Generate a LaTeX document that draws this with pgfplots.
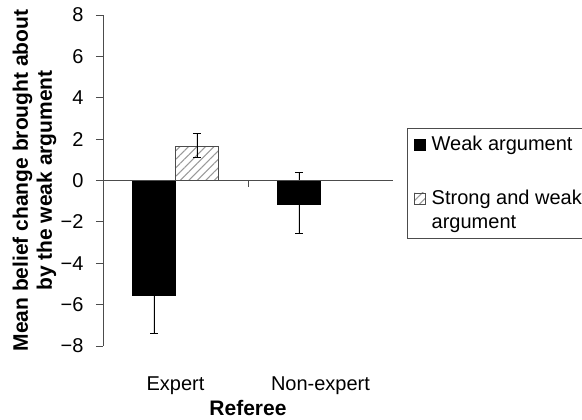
\documentclass[border=0pt]{standalone}
\usepackage{fontspec}
\setmainfont{Liberation Sans}
\usepackage{pgfplots}
\pgfplotsset{compat=1.18}
\usetikzlibrary{patterns.meta}
\pgfplotsset{
  imgA/.style={legend image code/.code={\path[draw=none,fill=none,opacity=0] (0pt,0pt) rectangle (15pt,0.1pt); \draw[##1, line width=0.6pt] (0pt,-5.5pt) rectangle (11pt,5.5pt);}},
  imgB/.style={legend image code/.code={\path[draw=none,fill=none,opacity=0] (0pt,0pt) rectangle (15pt,0.1pt); \draw[##1, line width=0.6pt] (0pt,6.5pt) rectangle (11pt,17.5pt);}},
}
\begin{document}
\begin{tikzpicture}
\begin{axis}[
  scale only axis, width=290pt, height=331pt,
  at={(0,0)}, anchor=south west,
  xmin=-0.5, xmax=1.5, ymin=-8, ymax=8,
  axis y line*=left, axis x line*=bottom,
  x axis line style={draw=none},
  y axis line style={black!70, line width=0.8pt},
  xtick={0,1}, xticklabels={Expert,Non-expert},
  major x tick style={draw=none},
  xticklabel style={anchor=center, yshift=-33pt},
  ytick={-8,-6,...,8}, yticklabels={−8,−6,−4,−2,0,2,4,6,8},
  yticklabel style={xshift=-9pt},
  major y tick style={black!70, line width=0.8pt},
  tick align=outside, major tick length=7pt,
  tick label style={font=\fontsize{20}{24}\selectfont},
  ybar=0pt, bar width=43pt,
  ylabel={Mean belief change brought about\\by the weak argument},
  ylabel style={at={(axis description cs:-0.236,0.5)}, anchor=center, align=center, font=\fontsize{21}{24}\selectfont\bfseries},
  xlabel={Referee},
  xlabel style={at={(axis description cs:0.5,-0.186)}, anchor=center, font=\fontsize{21}{24}\selectfont\bfseries},
  legend style={at={(axis description cs:1.0483,0.6586)}, anchor=north west, draw=black!70, line width=0.8pt,
    font=\fontsize{20}{24}\selectfont, cells={anchor=west, align=left}, row sep=34pt, inner xsep=7pt, inner ysep=6pt},
  error bars/y dir=both, error bars/y explicit,
  error bars/error bar style={black, line width=0.8pt},
  error bars/error mark options={rotate=90, mark size=4pt, black, line width=0.8pt},
]
\addplot[fill=black, draw=black, imgA] coordinates {
  (0,-5.56) += (0,1.82) -= (0,1.82)
  (1,-1.16) += (0,1.55) -= (0,1.40)
};
\addlegendentry{Weak argument}
\addplot[pattern={Lines[angle=45,distance=6pt,line width=1.1pt]}, pattern color=black!40, draw=black!70, line width=0.8pt, imgB] coordinates {
  (0,1.65) += (0,0.62) -= (0,0.53)
};
\addlegendentry{Strong and weak\\argument}
\draw[black!70, line width=0.8pt] (axis cs:-0.5,0) -- (axis cs:1.5,0);
\draw[black!70, line width=0.8pt] (axis cs:0.5,0) -- ++(0pt,-7pt);
\draw[black!70, line width=0.8pt] (axis cs:1.5,0) -- ++(0pt,-7pt);
\end{axis}
\pgfresetboundingbox
\path[use as bounding box] (-103pt,-74pt) rectangle (479pt,346pt);
\end{tikzpicture}
\end{document}
